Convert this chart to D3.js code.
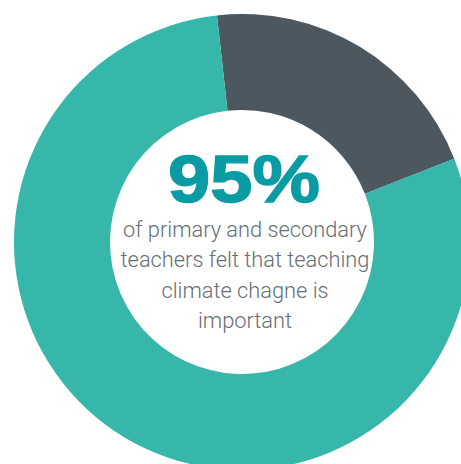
<!DOCTYPE html>
<html>
<head>
<meta charset="utf-8">
<script src="https://cdn.jsdelivr.net/npm/d3@7"></script>
<style>
  html, body { margin: 0; padding: 0; background: #fff; }
  svg { display: block; }
</style>
</head>
<body>
<svg width="461" height="464"></svg>
<script>
// slices of the ring (dark wedge ~ 21% of the circle)
var categories = ['other', 'important'];
var values = [20.8, 79.2];
var colours = ['#4d575f', '#37b6aa'];

var bigNumber = '95%';
var caption = ['of primary and secondary', 'teachers felt that teaching', 'climate chagne is', 'important'];

var svg = d3.select('svg');
var cx = 242, cy = 242;
var outerR = 228, innerR = 132;

// dark wedge starts a little left of 12 o'clock
var start = -6.3 * Math.PI / 180;
var pie = d3.pie().sort(null).startAngle(start).endAngle(start + 2 * Math.PI);
var arc = d3.arc().innerRadius(innerR).outerRadius(outerR);

var g = svg.append('g').attr('transform', 'translate(' + cx + ',' + cy + ')');

g.selectAll('path')
    .data(pie(values))
    .enter()
    .append('path')
    .attr('d', arc)
    .attr('fill', function (d, i) { return colours[i]; });

// big figure in the middle
svg.append('text')
    .attr('x', 244)
    .attr('y', 202)
    .attr('text-anchor', 'middle')
    .attr('font-family', 'Liberation Sans, Arial, sans-serif')
    .attr('font-weight', 'bold')
    .attr('font-size', 66)
    .attr('textLength', 152)
    .attr('lengthAdjust', 'spacingAndGlyphs')
    .attr('fill', '#0a9ba4')
    .attr('stroke', '#0a9ba4')
    .attr('stroke-width', 1.4)
    .text(bigNumber);

var lineY = [237, 267, 298, 328];
svg.selectAll('text.cap')
    .data(caption)
    .enter()
    .append('text')
    .attr('class', 'cap')
    .attr('x', 245)
    .attr('y', function (d, i) { return lineY[i]; })
    .attr('text-anchor', 'middle')
    .attr('font-family', 'Roboto, Liberation Sans, sans-serif')
    .attr('font-weight', 300)
    .attr('font-size', 21.8)
    .attr('fill', '#676e75')
    .text(function (d) { return d; });
</script>
</body>
</html>
